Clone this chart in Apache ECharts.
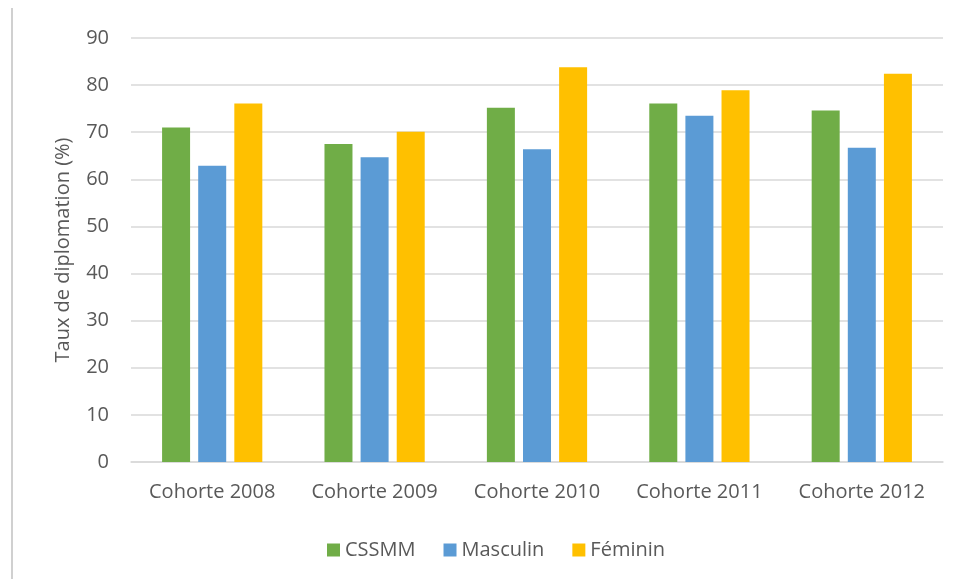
<!DOCTYPE html>
<html>
<head>
<meta charset="utf-8">
<script src="https://cdn.jsdelivr.net/npm/echarts@6/dist/echarts.min.js"></script>
<style>
html,body{margin:0;padding:0;background:#fff;}
#chart{width:963px;height:579px;}
</style>
</head>
<body>
<div id="chart"></div>
<script>
const categories = ['Cohorte 2008', 'Cohorte 2009', 'Cohorte 2010', 'Cohorte 2011', 'Cohorte 2012'];
const cssmm = [71.0, 67.5, 75.2, 76.1, 74.6];
const masculin = [62.9, 64.7, 66.4, 73.5, 66.7];
const feminin = [76.1, 70.1, 83.8, 78.9, 82.4];
const yTicks = [0, 10, 20, 30, 40, 50, 60, 70, 80, 90];

const FONT = 'Open Sans';
const FS = 20;
const chart = echarts.init(document.getElementById('chart'), null, {renderer: 'canvas'});
chart.setOption({
  animation: false,
  textStyle: {fontFamily: FONT},
  graphic: [{
    type: 'line', shape: {x1: 12, y1: 8, x2: 12, y2: 579},
    style: {stroke: '#d0d0d0', lineWidth: 2}
  }],
  grid: {left: 131, right: 20, top: 38, bottom: 117, containLabel: false},
  legend: {
    data: ['CSSMM', 'Masculin', 'Féminin'],
    top: 535, left: 322,
    itemWidth: 13, itemHeight: 13, itemGap: 28,
    icon: 'rect',
    textStyle: {fontSize: FS, color: '#595959', fontFamily: FONT}
  },
  xAxis: {
    type: 'category', data: categories,
    axisLine: {lineStyle: {color: '#d9d9d9', width: 1.5}},
    axisTick: {show: false},
    axisLabel: {fontSize: FS, color: '#595959', margin: 20, interval: 0, fontFamily: FONT}
  },
  yAxis: {
    type: 'value', min: 0, max: 90, interval: 10,
    name: 'Taux de diplomation (%)', nameLocation: 'middle', nameGap: 58,
    nameTextStyle: {fontSize: FS, color: '#595959', fontFamily: FONT},
    axisLine: {show: false}, axisTick: {show: false},
    axisLabel: {fontSize: FS, color: '#595959', margin: 22, fontFamily: FONT,
      formatter: v => yTicks.includes(v) ? String(v) : ''},
    splitLine: {lineStyle: {color: '#d9d9d9', width: 1.5}}
  },
  series: [
    {name: 'CSSMM', type: 'bar', data: cssmm, barWidth: 28, barGap: '29%', itemStyle: {color: '#70ad47'}},
    {name: 'Masculin', type: 'bar', data: masculin, barWidth: 28, barGap: '29%', itemStyle: {color: '#5b9bd5'}},
    {name: 'Féminin', type: 'bar', data: feminin, barWidth: 28, barGap: '29%', itemStyle: {color: '#ffc000'}}
  ]
});
</script>
</body>
</html>
